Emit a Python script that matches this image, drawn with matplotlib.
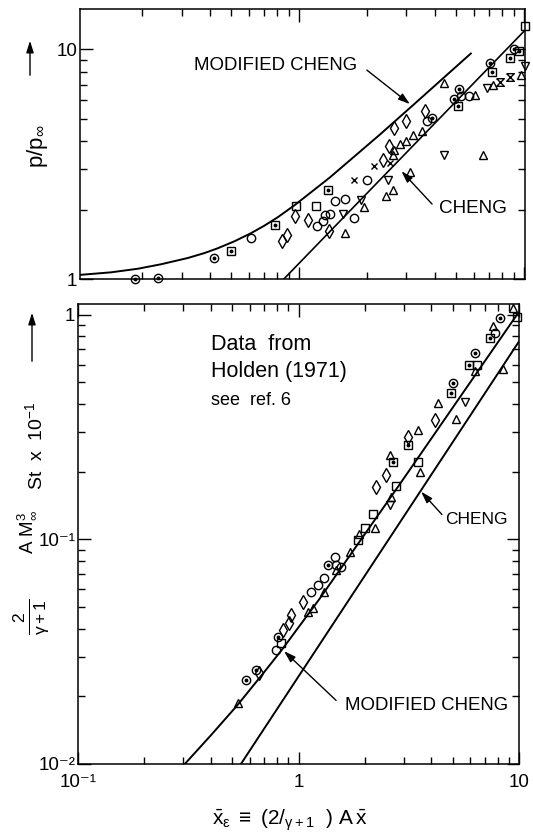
import matplotlib
matplotlib.use("Agg")
import matplotlib.pyplot as plt
from matplotlib.patches import FancyArrowPatch
from matplotlib.ticker import FixedLocator, FixedFormatter, LogLocator, NullFormatter

plt.rcParams['font.family'] = ['Liberation Sans', 'DejaVu Sans']
plt.rcParams['mathtext.fontset'] = 'custom'
plt.rcParams['mathtext.rm'] = 'Liberation Sans'
plt.rcParams['mathtext.it'] = 'Liberation Sans'
plt.rcParams['mathtext.bf'] = 'Liberation Sans:bold'

#--- pressure panel: theory --------------------------------
mod_cheng_p_x = [0.1033, 0.1454, 0.1912, 0.2428, 0.3193, 0.379, 0.4344, 0.5156, 0.6111,
                 0.7013, 0.8038, 0.9539, 1.37, 2.29, 3.22, 5.8]
mod_cheng_p_y = [1.04, 1.069, 1.108, 1.159, 1.234, 1.297, 1.361, 1.46, 1.584,
                 1.709, 1.859, 2.096, 2.77, 4.264, 5.735, 9.6]
cheng_p_x = [0.855, 10.0]
cheng_p_y = [1.0, 12.0]

#--- pressure panel: Holden (1971) data, by symbol ----------
p_circ_x = [0.609, 1.199, 1.277, 1.299, 1.369, 1.443, 1.601, 1.747, 2.01, 3.70, 5.24, 5.72]
p_circ_y = [1.507, 1.698, 1.787, 1.90, 1.91, 2.19, 2.23, 1.849, 2.69, 4.89, 6.25, 6.27]
p_circdot_x = [0.186, 0.235, 0.418, 3.90, 4.89, 5.15, 7.05, 9.0]
p_circdot_y = [1.0, 1.01, 1.236, 5.01, 6.10, 6.71, 8.73, 10.0]
p_sq_x = [0.966, 1.19, 10.05]
p_sq_y = [2.08, 2.08, 12.7]
p_sqdot_x = [0.498, 0.783, 1.345, 5.06, 7.17, 8.70, 9.48]
p_sqdot_y = [1.324, 1.727, 2.43, 5.69, 8.01, 9.18, 9.83]
p_diam_x = [0.84, 0.885, 0.959, 1.091, 1.36, 2.35, 2.52, 2.65, 3.0, 3.64]
p_diam_y = [1.457, 1.549, 1.881, 1.80, 1.614, 3.30, 3.81, 4.56, 4.89, 5.41]
p_up_x = [1.601, 1.94, 2.65, 2.61, 2.80, 3.0, 3.22, 3.51, 2.43, 2.61, 3.11, 4.40, 6.58, 6.03, 7.31, 9.66]
p_up_y = [1.586, 2.05, 3.66, 3.47, 3.86, 3.98, 4.26, 4.41, 2.31, 2.43, 2.93, 7.16, 3.47, 6.35, 6.99, 7.74]
p_down_x = [1.574, 1.874, 2.48, 4.40, 6.81, 10.05]
p_down_y = [1.91, 2.21, 2.69, 3.47, 6.76, 8.43]
p_cross_x = [1.747, 2.15, 2.54]
p_cross_y = [2.69, 3.10, 3.19]
p_glass_x = [7.83, 8.70]
p_glass_y = [7.23, 7.60]

#--- heat transfer panel: theory ---------------------------
mod_cheng_st_x = [0.305, 0.4, 0.529, 0.7, 0.84, 1.24, 2.88, 9.93]
mod_cheng_st_y = [0.01, 0.0134, 0.0183, 0.0257, 0.0322, 0.054, 0.176, 1.02]
cheng_st_x = [0.548, 10.0]
cheng_st_y = [0.01, 0.76]

#--- heat transfer panel: data ------------------------------
s_circ_x = [1.46, 1.48, 1.56, 1.31, 1.224, 1.14, 0.792, 7.78]
s_circ_y = [0.0837, 0.0769, 0.0751, 0.0671, 0.0627, 0.0585, 0.0322, 0.827]
s_circdot_x = [8.2, 6.31, 5.03, 1.36, 0.805, 0.642, 0.578]
s_circdot_y = [0.965, 0.674, 0.498, 0.0769, 0.0369, 0.0262, 0.0237]
s_sq_x = [9.76, 6.43, 3.49, 2.78, 2.18, 1.995, 1.86, 0.834]
s_sq_y = [0.98, 0.598, 0.222, 0.172, 0.13, 0.112, 0.0993, 0.0344]
s_sqdot_x = [7.38, 5.94, 4.91, 3.14, 2.68]
s_sqdot_y = [0.786, 0.598, 0.45, 0.263, 0.222]
s_diam_x = [4.15, 3.14, 2.50, 2.24, 1.046, 0.927, 0.91, 0.849, 0.665]
s_diam_y = [0.34, 0.286, 0.194, 0.171, 0.0528, 0.046, 0.0423, 0.0395, 0.0253]
s_up_x = [9.42, 7.64, 6.31, 4.30, 5.17, 8.43, 3.49, 2.59, 3.55, 2.64, 2.22, 1.89, 1.71, 1.48, 1.31, 1.10, 1.16, 0.53]
s_up_y = [1.07, 0.886, 0.562, 0.403, 0.344, 0.574, 0.307, 0.2375, 0.20, 0.155, 0.112, 0.106, 0.088, 0.073, 0.0585, 0.0477, 0.0493, 0.0186]
s_down_x = [5.68, 2.59]
s_down_y = [0.41, 0.142]

p_yticks = [1, 10]
p_yticklabels = ['1', '10']
st_yticks = [0.01, 0.1, 1]
st_yticklabels = ['10⁻²', '10⁻¹', '1']
xticks = [0.1, 1, 10]
xticklabels = ['10⁻¹', '1', '10']

W, H = 533, 835
glass = [(-1, 1), (1, 1), (-1, -1), (1, -1), (-1, 1)]
head = '-|>,head_length=0.7,head_width=0.22'


def fpx(x, y):
    # top-left pixel position -> figure fraction
    return (x / W, 1 - y / H)


def symbols(ax, xs, ys, marker, dot=False, ms=6.0):
    ax.plot(xs, ys, ls='none', marker=marker, ms=ms, mfc='none', mec='black', mew=1.0, clip_on=False)
    if dot:
        ax.plot(xs, ys, ls='none', marker='o', ms=1.8, color='black', clip_on=False)


def style_axes(ax):
    ax.set_xscale('log')
    ax.set_yscale('log')
    for s in ax.spines.values():
        s.set_linewidth(1.1)
    ax.tick_params(which='both', direction='in', top=True, right=True, width=1.0, labelsize=13.5)
    ax.tick_params(which='major', length=9)
    ax.tick_params(which='minor', length=5)
    ax.tick_params(axis='x', pad=7)
    ax.tick_params(axis='y', pad=2)
    ax.xaxis.set_major_locator(FixedLocator(xticks))
    ax.xaxis.set_major_formatter(FixedFormatter(xticklabels))
    ax.xaxis.set_minor_locator(LogLocator(base=10, subs=range(2, 10)))
    ax.xaxis.set_minor_formatter(NullFormatter())
    ax.yaxis.set_minor_locator(LogLocator(base=10, subs=range(2, 10)))
    ax.yaxis.set_minor_formatter(NullFormatter())


def up_arrow(x, y0, y1):
    fig.add_artist(FancyArrowPatch(fpx(x, y0), fpx(x, y1), transform=fig.transFigure,
                                   arrowstyle=head, color='black', lw=1.0, mutation_scale=10))


fig = plt.figure(figsize=(W / 100, H / 100), dpi=100)
ax1 = fig.add_axes([80 / W, 1 - 279 / H, 445 / W, 270 / H])
ax2 = fig.add_axes([78 / W, 1 - 764 / H, 441 / W, 460.4 / H])

# ---------------- pressure ----------------
style_axes(ax1)
ax1.set_xlim(0.106, 10.1)
ax1.set_ylim(1, 15.0)
ax1.yaxis.set_major_locator(FixedLocator(p_yticks))
ax1.yaxis.set_major_formatter(FixedFormatter(p_yticklabels))
ax1.tick_params(labelbottom=False)

ax1.plot(mod_cheng_p_x, mod_cheng_p_y, color='black', lw=1.4, solid_joinstyle='round')
ax1.plot(cheng_p_x, cheng_p_y, color='black', lw=1.2)

symbols(ax1, p_circ_x, p_circ_y, 'o')
symbols(ax1, p_circdot_x, p_circdot_y, 'o', dot=True)
symbols(ax1, p_sq_x, p_sq_y, 's', ms=5.5)
symbols(ax1, p_sqdot_x, p_sqdot_y, 's', dot=True, ms=5.5)
symbols(ax1, p_diam_x, p_diam_y, 'd', ms=7)
symbols(ax1, p_up_x, p_up_y, '^')
symbols(ax1, p_down_x, p_down_y, 'v')
symbols(ax1, p_cross_x, p_cross_y, 'x', ms=5)
symbols(ax1, p_glass_x, p_glass_y, glass, ms=5.5)

arrow = dict(arrowstyle=head, color='black', lw=1.0, shrinkA=0, shrinkB=0)
ax1.text(0.34, 8.49, 'MODIFIED CHENG', fontsize=13.4, ha='left', va='center')
ax1.annotate('', xy=(3.11, 5.78), xytext=(2.0, 8.13), arrowprops=arrow)
ax1.text(4.19, 2.02, 'CHENG', fontsize=13.6, ha='left', va='center')
ax1.annotate('', xy=(2.85, 2.95), xytext=(3.9, 2.12), arrowprops=arrow)

fig.text(*fpx(37, 146), r'p/p$_{\infty}$', rotation=90, fontsize=16, ha='center', va='center')
up_arrow(30, 78, 38)

# ---------------- heat transfer ----------------
style_axes(ax2)
ax2.set_xlim(0.1, 10.0)
ax2.set_ylim(0.01, 1.12)
ax2.yaxis.set_major_locator(FixedLocator(st_yticks))
ax2.yaxis.set_major_formatter(FixedFormatter(st_yticklabels))

ax2.plot(mod_cheng_st_x, mod_cheng_st_y, color='black', lw=1.4, solid_joinstyle='round')
ax2.plot(cheng_st_x, cheng_st_y, color='black', lw=1.4)

symbols(ax2, s_circ_x, s_circ_y, 'o')
symbols(ax2, s_circdot_x, s_circdot_y, 'o', dot=True)
symbols(ax2, s_sq_x, s_sq_y, 's', ms=5.5)
symbols(ax2, s_sqdot_x, s_sqdot_y, 's', dot=True, ms=5.5)
symbols(ax2, s_diam_x, s_diam_y, 'd', ms=7)
symbols(ax2, s_up_x, s_up_y, '^')
symbols(ax2, s_down_x, s_down_y, 'v')

ax2.text(0.402, 0.74, 'Data  from', fontsize=15.5, ha='left', va='center')
ax2.text(0.40, 0.556, 'Holden (1971)', fontsize=15.5, ha='left', va='center')
ax2.text(0.402, 0.417, 'see  ref. 6', fontsize=13, ha='left', va='center')

ax2.text(4.64, 0.1225, 'CHENG', fontsize=12.5, ha='left', va='center')
ax2.annotate('', xy=(3.6, 0.163), xytext=(4.47, 0.129), arrowprops=arrow)
ax2.text(1.62, 0.01825, 'MODIFIED CHENG', fontsize=13.4, ha='left', va='center')
ax2.annotate('', xy=(0.86, 0.0318), xytext=(1.48, 0.0192), arrowprops=arrow)

fig.text(*fpx(31, 617), r'$\frac{2}{\gamma+1}$', rotation=90, fontsize=18, ha='center', va='center')
fig.text(*fpx(27, 532), r'A M$^3_{\infty}$', rotation=90, fontsize=13.5, ha='center', va='center')
fig.text(*fpx(35, 446), r'St  x  10$^{-1}$', rotation=90, fontsize=14, ha='center', va='center')
up_arrow(32, 364, 310)

fig.text(*fpx(290, 820), r'$\bar{\mathrm{x}}_{\epsilon}\ \equiv\ (2/_{\gamma+1}\ \ )\ \mathrm{A}\,\bar{\mathrm{x}}$',
         fontsize=15, ha='center', va='center')

fig.savefig('out.png', dpi=100)
